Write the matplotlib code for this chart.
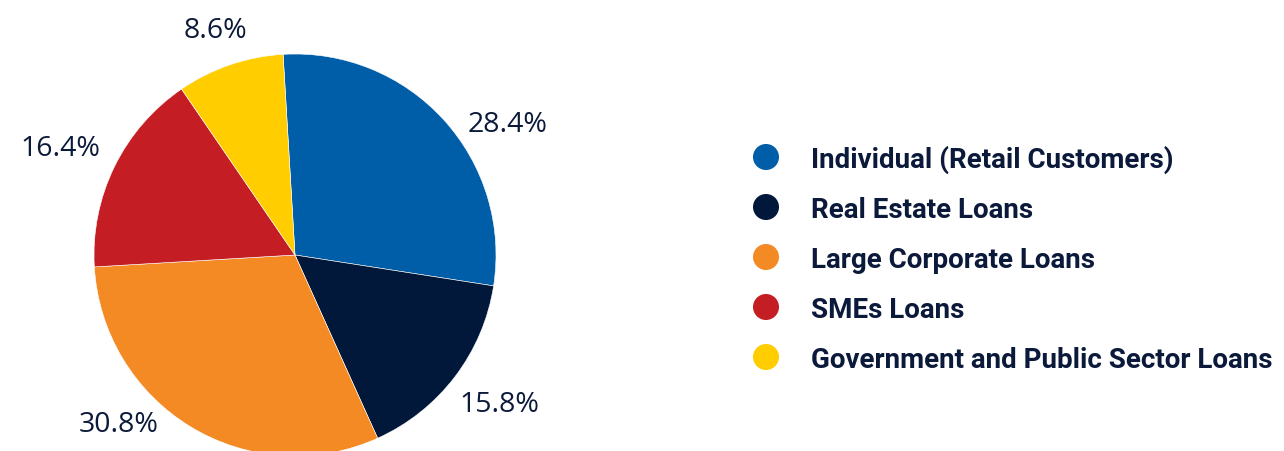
import matplotlib
matplotlib.use("Agg")
import matplotlib.pyplot as plt
import numpy as np

categories = ["Individual (Retail Customers)", "Real Estate Loans", "Large Corporate Loans",
              "SMEs Loans", "Government and Public Sector Loans"]
values = [28.4, 15.8, 30.8, 16.4, 8.6]
colors = ["#005DA8", "#01183A", "#F48A24", "#C41E24", "#FFCD00"]
text_color = "#0B1A3A"

# label placement (angle offset deg, distance in radii) -- layout only
label_offset = [-10.8, 1.1, -15.0, 1.9, 0.6]
label_dist = [1.24, 1.26, 1.22, 1.28, 1.18]

W, H = 1284, 451
fig = plt.figure(figsize=(W / 100, H / 100), dpi=100)
fig.patch.set_facecolor("white")

cx, cy, r = 295, 255, 201
ax = fig.add_axes([(cx - r) / W, (H - cy - r) / H, 2 * r / W, 2 * r / H])
wedges, _ = ax.pie(values, colors=colors, startangle=93.4, counterclock=False,
                   radius=1, wedgeprops=dict(linewidth=0.4, edgecolor="white"))
ax.set_xlim(-1, 1)
ax.set_ylim(-1, 1)
ax.set_aspect("equal")
ax.axis("off")

for w, v, off, d in zip(wedges, values, label_offset, label_dist):
    ang = np.deg2rad((w.theta1 + w.theta2) / 2 + off)
    ax.text(d * np.cos(ang), d * np.sin(ang), f"{v:.1f}%", ha="center", va="center",
            fontsize=20.5, color=text_color, family="Open Sans", clip_on=False)

lax = fig.add_axes([0, 0, 1, 1])
lax.set_xlim(0, W)
lax.set_ylim(H, 0)
lax.axis("off")
row0, step = 157, 50
for i, (c, col) in enumerate(zip(categories, colors)):
    y = row0 + i * step
    lax.scatter([766], [y], s=26 ** 2 * 0.52, color=col, edgecolors="none")
    lax.text(811, y, c, ha="left", va="center_baseline", fontsize=20, fontweight="bold",
             color=text_color, family="Roboto")

fig.savefig("out.png", dpi=100, facecolor="white")
